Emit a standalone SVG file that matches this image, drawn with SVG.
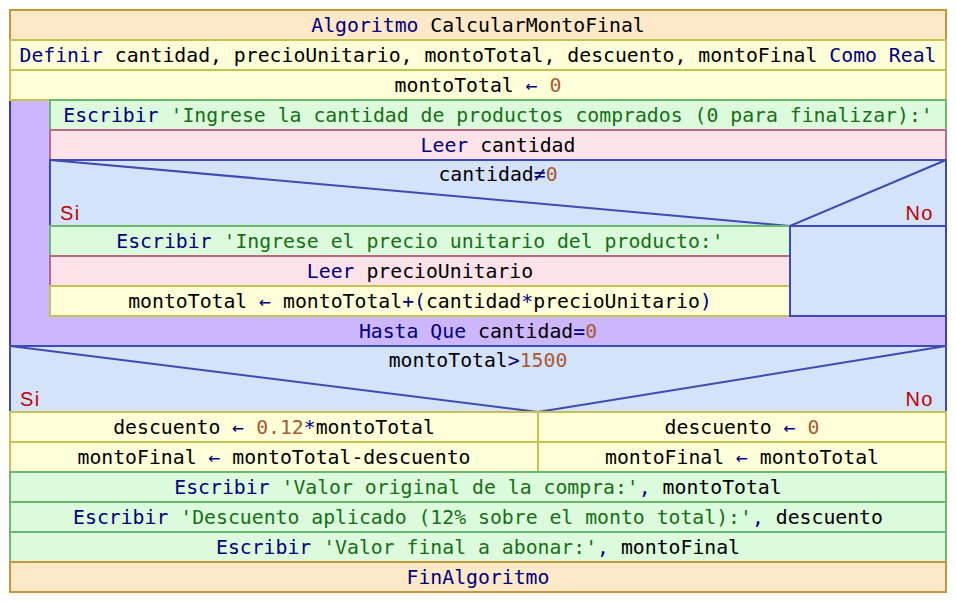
<svg xmlns="http://www.w3.org/2000/svg" width="956" height="602" viewBox="0 0 956 602">
<style>
.t{font-family:"DejaVu Sans Mono",monospace;font-size:19.8px;fill:#000;text-anchor:middle}
.sn{font-family:"Liberation Sans",Arial,sans-serif;font-size:20px;fill:#c00000;letter-spacing:1.5px}
.k{fill:#000080}.s{fill:#157015}.n{fill:#a85a30}
.alg{fill:#fde8c8;stroke:#c8943c;stroke-width:2}
.asg{fill:#fefed8;stroke:#c8c050;stroke-width:2}
.esc{fill:#dcfadc;stroke:#6cb86c;stroke-width:2}
.lee{fill:#fde2ea;stroke:#b86a84;stroke-width:2}
.cnd{fill:#d4e2fa;stroke:#3c4cb4;stroke-width:2}
.rep{fill:#ccb6fc;stroke:#4838b8;stroke-width:2}
.dg{fill:none;stroke:#3c4cb4;stroke-width:2}
</style>
<g id="loop">
<rect class="rep" x="10" y="100" width="936" height="246"/>
<text class="t" x="478" y="338" xml:space="preserve"><tspan class="k">Hasta Que</tspan> cantidad<tspan class="k">=</tspan><tspan class="n">0</tspan></text>
</g>
<g id="inicio">
<rect class="alg" x="10" y="10" width="936" height="30"/>
<text class="t" x="478" y="32" xml:space="preserve"><tspan class="k">Algoritmo</tspan> CalcularMontoFinal</text>
</g>
<g id="definir">
<rect class="asg" x="10" y="40" width="936" height="30"/>
<text class="t" x="478" y="62" xml:space="preserve"><tspan class="k">Definir</tspan> cantidad, precioUnitario, montoTotal, descuento, montoFinal <tspan class="k">Como Real</tspan></text>
</g>
<g id="asig1">
<rect class="asg" x="10" y="70" width="936" height="30"/>
<text class="t" x="478" y="92" xml:space="preserve">montoTotal <tspan class="k">←</tspan> <tspan class="n">0</tspan></text>
</g>
<g id="escribir1">
<rect class="esc" x="50" y="100" width="896" height="30"/>
<text class="t" x="498" y="122" xml:space="preserve"><tspan class="k">Escribir</tspan> <tspan class="s">'Ingrese la cantidad de productos comprados (0 para finalizar):'</tspan></text>
</g>
<g id="leer1">
<rect class="lee" x="50" y="130" width="896" height="30"/>
<text class="t" x="498" y="152" xml:space="preserve"><tspan class="k">Leer</tspan> cantidad</text>
</g>
<g id="cond1">
<rect class="cnd" x="50" y="160" width="896" height="66"/>
<path class="dg" d="M50,160 L790,226 L946,160"/>
<text class="t" x="498" y="181" xml:space="preserve">cantidad<tspan class="k">≠</tspan><tspan class="n">0</tspan></text>
<text class="sn" x="60" y="220">Si</text>
<text class="sn" x="934" y="220" text-anchor="end">No</text>
</g>
<g id="escribir2">
<rect class="esc" x="50" y="226" width="740" height="30"/>
<text class="t" x="420" y="248" xml:space="preserve"><tspan class="k">Escribir</tspan> <tspan class="s">'Ingrese el precio unitario del producto:'</tspan></text>
</g>
<g id="leer2">
<rect class="lee" x="50" y="256" width="740" height="30"/>
<text class="t" x="420" y="278" xml:space="preserve"><tspan class="k">Leer</tspan> precioUnitario</text>
</g>
<g id="asig2">
<rect class="asg" x="50" y="286" width="740" height="30"/>
<text class="t" x="420" y="308" xml:space="preserve">montoTotal <tspan class="k">←</tspan> montoTotal<tspan class="k">+(</tspan>cantidad<tspan class="k">*</tspan>precioUnitario<tspan class="k">)</tspan></text>
</g>
<g id="no1">
<rect class="cnd" x="790" y="226" width="156" height="90"/>
</g>
<g id="cond2">
<rect class="cnd" x="10" y="346" width="936" height="66"/>
<path class="dg" d="M10,346 L538,412 L946,346"/>
<text class="t" x="478" y="367" xml:space="preserve">montoTotal<tspan class="k">&gt;</tspan><tspan class="n">1500</tspan></text>
<text class="sn" x="20" y="406">Si</text>
<text class="sn" x="934" y="406" text-anchor="end">No</text>
</g>
<g id="asig3">
<rect class="asg" x="10" y="412" width="528" height="30"/>
<text class="t" x="274" y="434" xml:space="preserve">descuento <tspan class="k">←</tspan> <tspan class="n">0.12</tspan><tspan class="k">*</tspan>montoTotal</text>
</g>
<g id="asig4">
<rect class="asg" x="10" y="442" width="528" height="30"/>
<text class="t" x="274" y="464" xml:space="preserve">montoFinal <tspan class="k">←</tspan> montoTotal-descuento</text>
</g>
<g id="asig5">
<rect class="asg" x="538" y="412" width="408" height="30"/>
<text class="t" x="742" y="434" xml:space="preserve">descuento <tspan class="k">←</tspan> <tspan class="n">0</tspan></text>
</g>
<g id="asig6">
<rect class="asg" x="538" y="442" width="408" height="30"/>
<text class="t" x="742" y="464" xml:space="preserve">montoFinal <tspan class="k">←</tspan> montoTotal</text>
</g>
<g id="escribir3">
<rect class="esc" x="10" y="472" width="936" height="30"/>
<text class="t" x="478" y="494" xml:space="preserve"><tspan class="k">Escribir</tspan> <tspan class="s">'Valor original de la compra:'</tspan><tspan class="k">,</tspan> montoTotal</text>
</g>
<g id="escribir4">
<rect class="esc" x="10" y="502" width="936" height="30"/>
<text class="t" x="478" y="524" xml:space="preserve"><tspan class="k">Escribir</tspan> <tspan class="s">'Descuento aplicado (12% sobre el monto total):'</tspan><tspan class="k">,</tspan> descuento</text>
</g>
<g id="escribir5">
<rect class="esc" x="10" y="532" width="936" height="30"/>
<text class="t" x="478" y="554" xml:space="preserve"><tspan class="k">Escribir</tspan> <tspan class="s">'Valor final a abonar:'</tspan><tspan class="k">,</tspan> montoFinal</text>
</g>
<g id="fin">
<rect class="alg" x="10" y="562" width="936" height="30"/>
<text class="t" x="478" y="584" xml:space="preserve"><tspan class="k">FinAlgoritmo</tspan></text>
</g>
<g id="connectors"/>
</svg>
